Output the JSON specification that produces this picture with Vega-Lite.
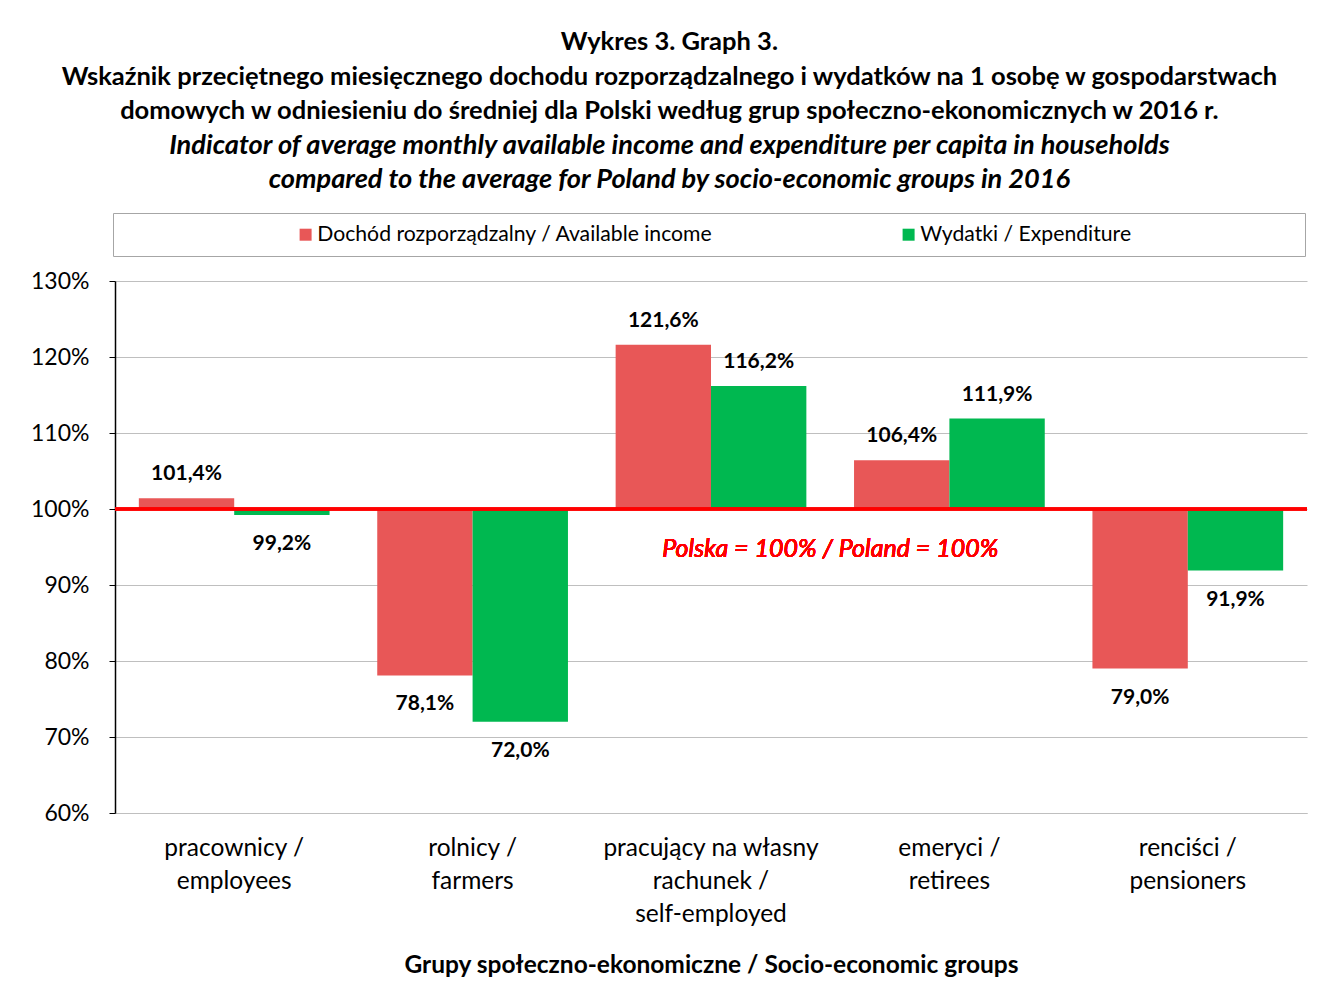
{
  "$schema": "https://vega.github.io/schema/vega-lite/v6.json",
  "autosize": {"type": "none"},
  "padding": {"left": 115, "top": 281, "right": 15, "bottom": 184},
  "width": 1192,
  "height": 532,
  "background": "white",
  "config": {
    "locale": {"number": {"decimal": ",", "thousands": " ", "grouping": [3], "currency": ["", " zł"]}},
    "font": "Lato",
    "view": {"stroke": null}
  },
  "title": {
    "text": ["Wykres 3. Graph 3.", "Wskaźnik przeciętnego miesięcznego dochodu rozporządzalnego i wydatków na 1 osobę w gospodarstwach", "domowych w odniesieniu do średniej dla Polski według grup społeczno-ekonomicznych w 2016 r."],
    "subtitle": ["Indicator of average monthly available income and expenditure per capita in households", "compared to the average for Poland by socio-economic groups in 2016"],
    "anchor": "middle",
    "frame": "bounds",
    "font": "Lato",
    "fontSize": 25.5,
    "fontWeight": "bold",
    "color": "#000000",
    "lineHeight": 34.5,
    "subtitleFont": "Lato",
    "subtitleFontSize": 27.2,
    "subtitleFontWeight": "bold",
    "subtitleFontStyle": "italic",
    "subtitleColor": "#000000",
    "subtitleLineHeight": 34.5,
    "subtitlePadding": 8,
    "offset": 19
  },
  "data": {
    "values": [
      {"group": "pracownicy /|employees", "series": "Dochód rozporządzalny / Available income", "value": 1.014},
      {"group": "pracownicy /|employees", "series": "Wydatki / Expenditure", "value": 0.992},
      {"group": "rolnicy /|farmers", "series": "Dochód rozporządzalny / Available income", "value": 0.781},
      {"group": "rolnicy /|farmers", "series": "Wydatki / Expenditure", "value": 0.720},
      {"group": "pracujący na własny|rachunek /|self-employed", "series": "Dochód rozporządzalny / Available income", "value": 1.216},
      {"group": "pracujący na własny|rachunek /|self-employed", "series": "Wydatki / Expenditure", "value": 1.162},
      {"group": "emeryci /|retirees", "series": "Dochód rozporządzalny / Available income", "value": 1.064},
      {"group": "emeryci /|retirees", "series": "Wydatki / Expenditure", "value": 1.119},
      {"group": "renciści /|pensioners", "series": "Dochód rozporządzalny / Available income", "value": 0.790},
      {"group": "renciści /|pensioners", "series": "Wydatki / Expenditure", "value": 0.919}
    ]
  },
  "layer": [
    {
      "mark": {"type": "bar"},
      "encoding": {
        "x": {
          "field": "group",
          "type": "nominal",
          "sort": null,
          "scale": {"paddingInner": 0, "paddingOuter": 0},
          "axis": {
            "labelExpr": "split(datum.label, '|')",
            "labelAngle": 0,
            "labelFontSize": 24.5,
            "labelLineHeight": 33,
            "labelColor": "#000000",
            "labelBaseline": "top",
            "labelPadding": 23,
            "labelLimit": 400,
            "ticks": false,
            "domainColor": "#bfbfbf",
            "domainWidth": 1,
            "title": "Grupy społeczno-ekonomiczne / Socio-economic groups",
            "titleFontSize": 24.5,
            "titleFontWeight": "bold",
            "titleColor": "#000000",
            "titlePadding": 28
          }
        },
        "xOffset": {"field": "series", "type": "nominal", "sort": null, "scale": {"paddingInner": 0, "paddingOuter": 0.25}},
        "y": {
          "field": "value",
          "type": "quantitative",
          "scale": {"domain": [0.6, 1.3], "nice": false, "zero": false},
          "axis": {
            "values": [0.6, 0.7, 0.8, 0.9, 1.0, 1.1, 1.2, 1.3],
            "format": ".0%",
            "title": null,
            "labelFontSize": 23,
            "labelColor": "#000000",
            "labelPadding": 20,
            "tickSize": 6,
            "tickColor": "#000000",
            "domainColor": "#000000",
            "domainWidth": 1.5,
            "gridColor": "#bfbfbf",
            "gridWidth": 1
          }
        },
        "y2": {"datum": 1},
        "color": {
          "field": "series",
          "type": "nominal",
          "sort": null,
          "scale": {"domain": ["Dochód rozporządzalny / Available income", "Wydatki / Expenditure"], "range": ["#E85757", "#00B850"]},
          "legend": {
            "orient": "none",
            "legendX": -2,
            "legendY": -68,
            "direction": "horizontal",
            "columns": 2,
            "gridAlign": "all",
            "title": " ",
            "titleOrient": "right",
            "titlePadding": 163,
            "symbolType": "square",
            "symbolSize": 144,
            "symbolStrokeWidth": 0,
            "labelFontSize": 21.2,
            "labelColor": "#000000",
            "labelLimit": 600,
            "padding": 11,
            "strokeColor": "#a6a6a6",
            "fillColor": "white",
            "symbolOffset": 171,
            "labelOffset": 1,
            "columnPadding": 14
          }
        }
      }
    },
    {
      "mark": {"type": "rule", "color": "#FF0000", "strokeWidth": 2.5},
      "encoding": {"y": {"datum": 1}}
    },
    {
      "transform": [{"filter": "datum.value >= 1"}],
      "mark": {"type": "text", "fontWeight": "bold", "fontSize": 21, "color": "#000000", "dy": -24, "baseline": "middle"},
      "encoding": {
        "x": {"field": "group", "type": "nominal", "sort": null},
        "xOffset": {"field": "series", "type": "nominal", "sort": null},
        "y": {"field": "value", "type": "quantitative"},
        "text": {"field": "value", "type": "quantitative", "format": ".1%"}
      }
    },
    {
      "transform": [{"filter": "datum.value < 1"}],
      "mark": {"type": "text", "fontWeight": "bold", "fontSize": 21, "color": "#000000", "dy": 29, "baseline": "middle"},
      "encoding": {
        "x": {"field": "group", "type": "nominal", "sort": null},
        "xOffset": {"field": "series", "type": "nominal", "sort": null},
        "y": {"field": "value", "type": "quantitative"},
        "text": {"field": "value", "type": "quantitative", "format": ".1%"}
      }
    },
    {
      "mark": {"type": "text", "fontStyle": "italic", "fontWeight": "normal", "fontSize": 25, "color": "#FF0000", "baseline": "middle", "dy": 2},
      "encoding": {
        "x": {"datum": "emeryci /|retirees", "bandPosition": 0},
        "y": {"datum": 0.95},
        "text": {"value": "Polska = 100% / Poland = 100%"}
      }
    }
  ]
}
